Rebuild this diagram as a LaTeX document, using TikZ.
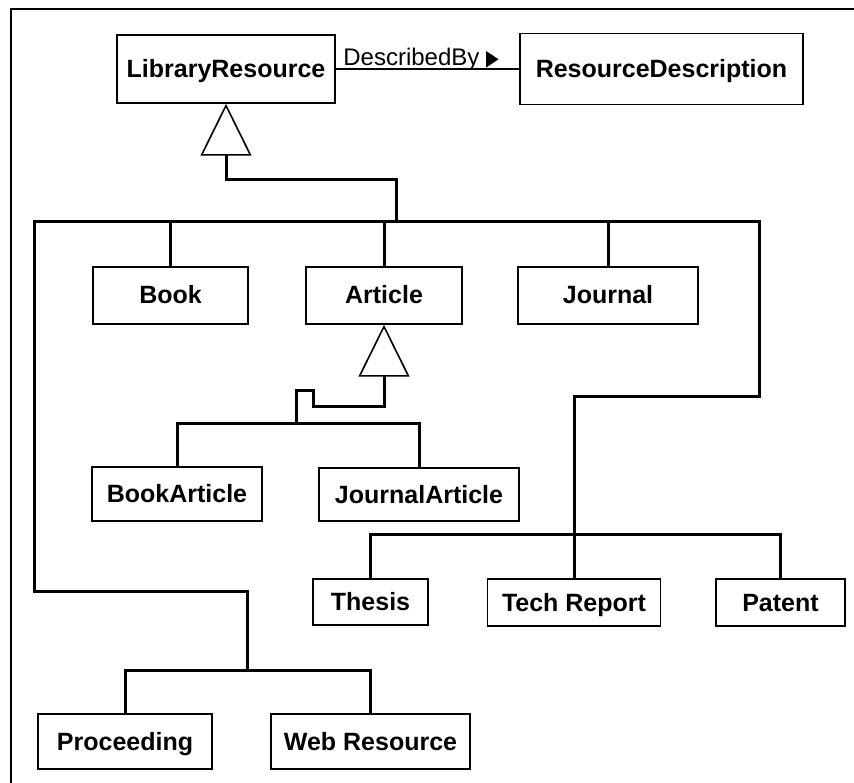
\documentclass[tikz,border=0pt]{standalone}
\usepackage{fontspec}
\setmainfont{Liberation Sans}
\newfontfamily\symbolfont{DejaVu Sans}
\usetikzlibrary{arrows.meta}

\tikzset{
    class/.style={draw, line width=1.5pt, inner sep=0pt,
                  text height=17pt, text depth=0pt,
                  font=\bfseries\fontsize{25}{25}\selectfont},
    bus/.style={line width=3pt, line cap=rect},
    gen/.style={line width=3pt,
                -{Triangle[open, length=52pt, width=51pt, line width=1.6pt 0 1]}},
    assoc/.style={line width=1.2pt},
}

\begin{document}
\begin{tikzpicture}[
        x=1pt, y=-1pt, line join=miter,
    ]
    \useasboundingbox (0,0) rectangle (854,783);
    \draw[line width=1.8pt] (11,783) |- (854,9);

    \node[class, minimum width=218pt, minimum height=68pt] (libres) at (226,69) {LibraryResource};
    \node[class, minimum width=283pt, minimum height=71pt] (resdesc) at (661.5,69) {ResourceDescription};

    \node[class, minimum width=155pt, minimum height=57pt] (book) at (170.5,295.5) {Book};
    \node[class, minimum width=156pt, minimum height=57pt] (article) at (384,295.5) {Article};
    \node[class, minimum width=180pt, minimum height=57pt] (journal) at (608,295.5) {Journal};

    \node[class, minimum width=170pt, minimum height=54pt] (bookart) at (177,494) {BookArticle};
    \node[class, minimum width=200pt, minimum height=53pt] (jart) at (419,494.5) {JournalArticle};

    \node[class, minimum width=115pt, minimum height=46pt] (thesis) at (370.5,602) {Thesis};
    \node[class, minimum width=173pt, minimum height=47pt] (tech) at (574,602.5) {Tech Report};
    \node[class, minimum width=129pt, minimum height=47pt] (patent) at (780.5,602.5) {Patent};

    \node[class, minimum width=174pt, minimum height=55pt] (proc) at (125,741.5) {Proceeding};
    \node[class, minimum width=199pt, minimum height=55pt] (web) at (370.5,741.5) {Web Resource};

    \draw[assoc] (libres.east) -- (resdesc.west)
        node[pos=0, anchor=base west, xshift=7pt, yshift=3pt, inner sep=0pt,
             font=\fontsize{24}{24}\selectfont]
        (descby) {DescribedBy \scalebox{0.75}[1]{\symbolfont\fontsize{22}{22}\selectfont ▶}};

    \coordinate (lcorner) at (34,222);
    \coordinate (rcorner) at (759,222);
    \coordinate (topjoin) at (396,222);
    \coordinate (artjoin) at (296,423);
    \coordinate (procjoin) at (247,670);
    \coordinate (thesjoin) at ([yshift=44pt]tech.north);

    % main hierarchy
    \draw[gen] (topjoin) -- ++(0,-42) -| (libres.south);
    \draw[bus] (procjoin) -- ++(0,-79) -| (lcorner) -- (rcorner)
        -- ++(0,175) -| (thesjoin);
    \foreach \n in {book, article, journal}
        \draw[bus] (\n.north) -- (\n.north |- lcorner);

    \draw[bus] (proc.north) |- (procjoin) -| (web.north);
    \draw[bus] (thesis.north) |- (thesjoin) -| (patent.north);
    \draw[bus] (tech.north) -- (thesjoin);

    % articles
    \draw[gen] (artjoin) -- ++(0,-32) -- ++(17,0) -- ++(0,16) -| (article.south);
    \draw[bus] (bookart.north) |- (artjoin) -| (jart.north);

    \end{tikzpicture}
\end{document}
